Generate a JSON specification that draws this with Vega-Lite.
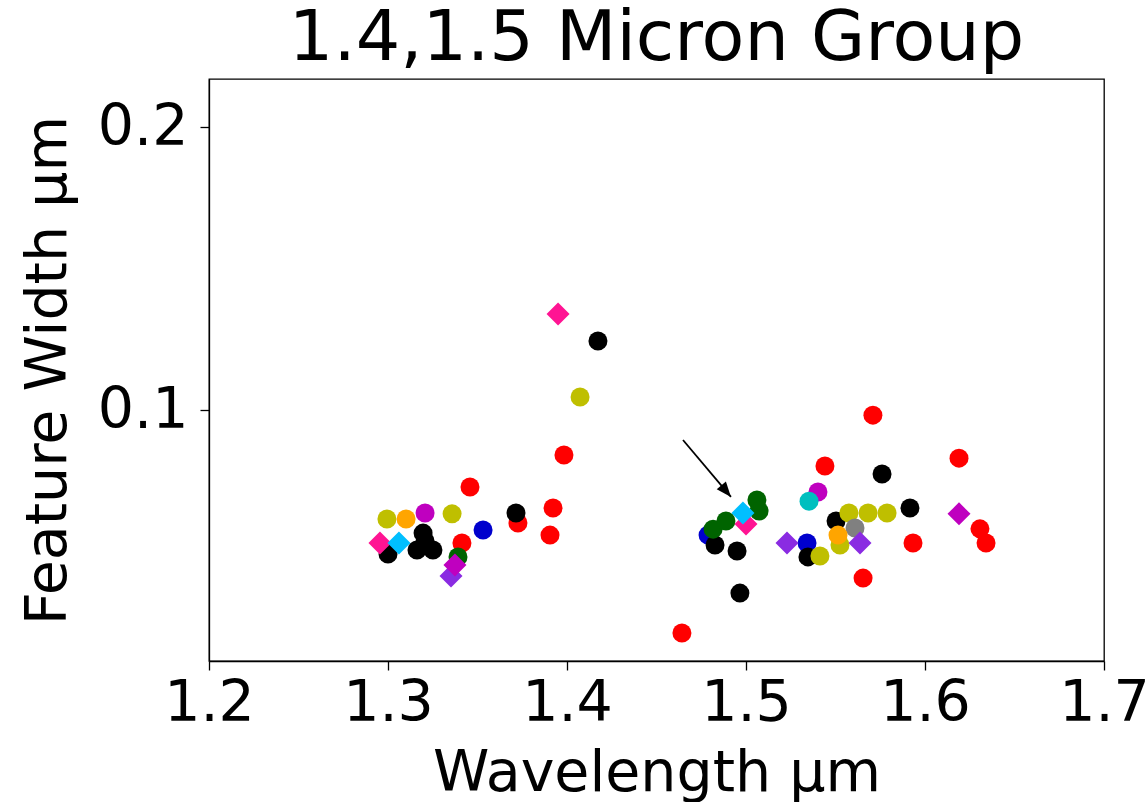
{
  "$schema": "https://vega.github.io/schema/vega-lite/v6.json",
  "width": 895,
  "height": 582,
  "autosize": {"type": "none"},
  "padding": {"left": 209, "top": 79, "right": 43, "bottom": 141},
  "background": "white",
  "title": {"text": "1.4,1.5 Micron Group", "fontSize": 70, "fontWeight": "normal", "color": "black", "font": "DejaVu Sans", "baseline": "alphabetic", "offset": -51},
  "config": {
    "font": "DejaVu Sans",
    "view": {"stroke": "black", "strokeWidth": 1.3},
    "axis": {"labelFontSize": 57, "titleFontSize": 57, "titleFontWeight": "normal", "labelColor": "black", "titleColor": "black", "tickColor": "black", "domainColor": "black", "grid": false, "tickSize": 9, "tickWidth": 1.3, "domainWidth": 1.3, "labelFont": "DejaVu Sans", "titleFont": "DejaVu Sans", "labelFlush": false, "labelOverlap": false}
  },
  "datasets": {
    "pts": [
      {"s": "red", "x": 1.3413, "y": 0.0530},
      {"s": "red", "x": 1.3458, "y": 0.0728},
      {"s": "red", "x": 1.3726, "y": 0.0601},
      {"s": "red", "x": 1.3922, "y": 0.0654},
      {"s": "red", "x": 1.3905, "y": 0.0558},
      {"s": "red", "x": 1.3983, "y": 0.0841},
      {"s": "red", "x": 1.4642, "y": 0.0212},
      {"s": "red", "x": 1.5441, "y": 0.0802},
      {"s": "red", "x": 1.5709, "y": 0.0982},
      {"s": "red", "x": 1.5654, "y": 0.0406},
      {"s": "red", "x": 1.5933, "y": 0.0530},
      {"s": "red", "x": 1.6190, "y": 0.0830},
      {"s": "red", "x": 1.6307, "y": 0.0580},
      {"s": "red", "x": 1.6341, "y": 0.0530},
      {"s": "blue", "x": 1.3531, "y": 0.0576},
      {"s": "blue", "x": 1.4788, "y": 0.0558},
      {"s": "blue", "x": 1.5341, "y": 0.0530},
      {"s": "black", "x": 1.3000, "y": 0.0491},
      {"s": "black", "x": 1.3196, "y": 0.0565},
      {"s": "black", "x": 1.3162, "y": 0.0505},
      {"s": "black", "x": 1.3251, "y": 0.0505},
      {"s": "black", "x": 1.3207, "y": 0.0537},
      {"s": "black", "x": 1.3715, "y": 0.0636},
      {"s": "black", "x": 1.4173, "y": 0.1244},
      {"s": "black", "x": 1.4827, "y": 0.0523},
      {"s": "black", "x": 1.4950, "y": 0.0502},
      {"s": "black", "x": 1.4966, "y": 0.0353},
      {"s": "black", "x": 1.5346, "y": 0.0481},
      {"s": "black", "x": 1.5760, "y": 0.0774},
      {"s": "black", "x": 1.5503, "y": 0.0608},
      {"s": "black", "x": 1.5916, "y": 0.0654},
      {"s": "green", "x": 1.3391, "y": 0.0481},
      {"s": "green", "x": 1.4816, "y": 0.0579},
      {"s": "green", "x": 1.4888, "y": 0.0608},
      {"s": "green", "x": 1.5061, "y": 0.0682},
      {"s": "green", "x": 1.5073, "y": 0.0643},
      {"s": "olive", "x": 1.2994, "y": 0.0615},
      {"s": "olive", "x": 1.3358, "y": 0.0633},
      {"s": "olive", "x": 1.4073, "y": 0.1046},
      {"s": "olive", "x": 1.5413, "y": 0.0484},
      {"s": "olive", "x": 1.5575, "y": 0.0636},
      {"s": "olive", "x": 1.5682, "y": 0.0636},
      {"s": "olive", "x": 1.5788, "y": 0.0636},
      {"s": "olive", "x": 1.5525, "y": 0.0523},
      {"s": "grey", "x": 1.5609, "y": 0.0583},
      {"s": "orange", "x": 1.3101, "y": 0.0615},
      {"s": "orange", "x": 1.5514, "y": 0.0558},
      {"s": "magenta", "x": 1.3207, "y": 0.0636},
      {"s": "magenta", "x": 1.5402, "y": 0.0710},
      {"s": "cyan", "x": 1.5352, "y": 0.0678},
      {"s": "violetD", "x": 1.3352, "y": 0.0413},
      {"s": "violetD", "x": 1.5229, "y": 0.0530},
      {"s": "violetD", "x": 1.5637, "y": 0.0530},
      {"s": "magentaD", "x": 1.3374, "y": 0.0452},
      {"s": "magentaD", "x": 1.6190, "y": 0.0633},
      {"s": "pinkD", "x": 1.2955, "y": 0.0530},
      {"s": "pinkD", "x": 1.3950, "y": 0.1339},
      {"s": "pinkD", "x": 1.5000, "y": 0.0597},
      {"s": "cyanD", "x": 1.3061, "y": 0.0530},
      {"s": "cyanD", "x": 1.4983, "y": 0.0636}
    ],
    "arrow": [
      {"x": 1.4648, "y": 0.0894, "x2": 1.4916, "y2": 0.0693}
    ]
  },
  "layer": [
    {
      "data": {"name": "pts"},
      "mark": {"type": "point", "filled": true, "opacity": 1, "strokeWidth": 0},
      "encoding": {
        "x": {"field": "x", "type": "quantitative", "scale": {"domain": [1.2, 1.7], "nice": false, "zero": false},
              "axis": {"values": [1.2, 1.3, 1.4, 1.5, 1.6, 1.7], "format": ".1f", "title": "Wavelength μm", "labelPadding": 5, "titlePadding": 14}},
        "y": {"field": "y", "type": "quantitative", "scale": {"domain": [0.0113, 0.217], "nice": false, "zero": false},
              "axis": {"values": [0.1, 0.2], "format": ".1f", "title": "Feature Width μm", "labelPadding": 12, "titlePadding": 20}},
        "color": {"field": "s", "type": "nominal", "legend": null,
                  "scale": {"domain": ["red", "blue", "black", "green", "olive", "grey", "orange", "magenta", "cyan", "violetD", "magentaD", "pinkD", "cyanD"],
                            "range": ["#ff0000", "#0000cd", "#000000", "#006400", "#bfbf00", "#808080", "#ffa500", "#bf00bf", "#00bfbf", "#8a2be2", "#bf00bf", "#ff1493", "#00bfff"]}},
        "shape": {"field": "s", "type": "nominal", "legend": null,
                  "scale": {"domain": ["red", "blue", "black", "green", "olive", "grey", "orange", "magenta", "cyan", "violetD", "magentaD", "pinkD", "cyanD"],
                            "range": ["circle", "circle", "circle", "circle", "circle", "circle", "circle", "circle", "circle", "diamond", "diamond", "diamond", "diamond"]}},
        "size": {"field": "s", "type": "nominal", "legend": null,
                 "scale": {"type": "ordinal", "domain": ["red", "blue", "black", "green", "olive", "grey", "orange", "magenta", "cyan", "violetD", "magentaD", "pinkD", "cyanD"],
                           "range": [361, 361, 361, 361, 361, 361, 361, 361, 361, 529, 529, 529, 529]}}
      }
    },
    {
      "data": {"name": "arrow"},
      "mark": {"type": "rule", "color": "black", "strokeWidth": 1.8},
      "encoding": {
        "x": {"field": "x", "type": "quantitative"},
        "y": {"field": "y", "type": "quantitative"},
        "x2": {"field": "x2"},
        "y2": {"field": "y2"}
      }
    },
    {
      "data": {"name": "arrow"},
      "mark": {"type": "point", "filled": true, "color": "black", "opacity": 1, "strokeWidth": 0, "shape": "M0,0L-0.4,1L0.4,1Z", "size": 900, "angle": 140},
      "encoding": {
        "x": {"field": "x2", "type": "quantitative"},
        "y": {"field": "y2", "type": "quantitative"}
      }
    }
  ]
}
